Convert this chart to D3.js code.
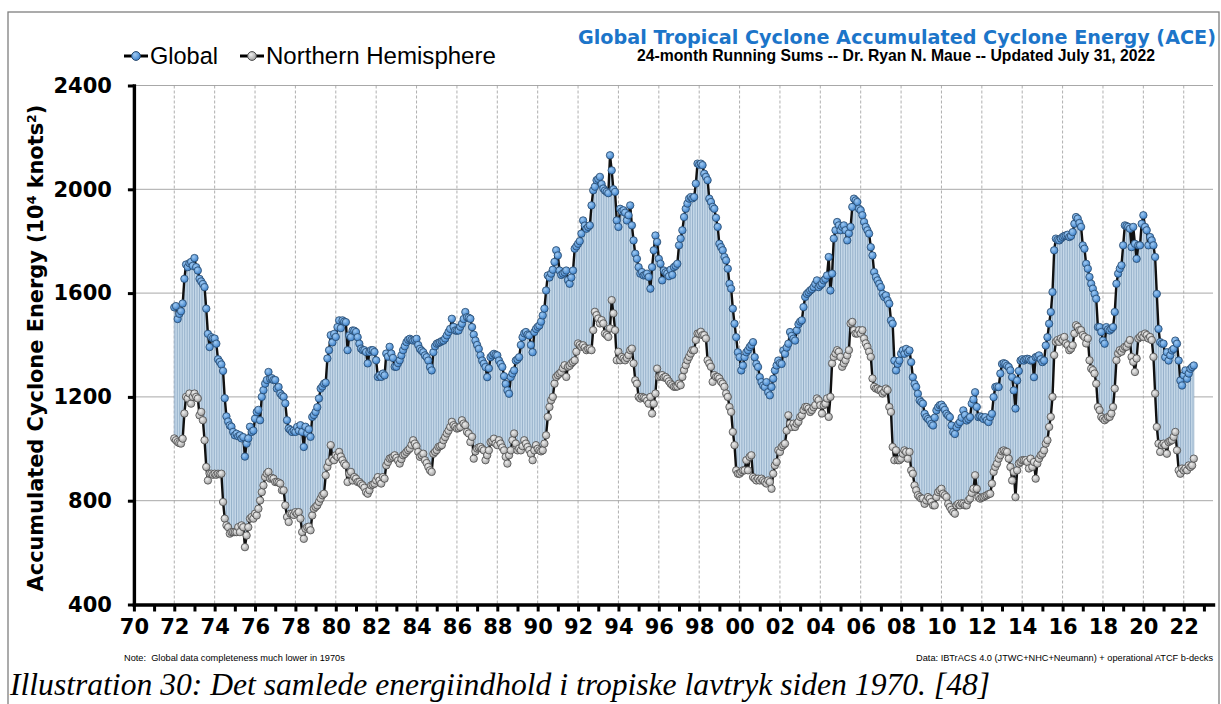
<!DOCTYPE html>
<html>
<head>
<meta charset="utf-8">
<script src="https://cdn.jsdelivr.net/npm/d3@7"></script>
<style>
  html, body { margin: 0; padding: 0; background: #fff; overflow: hidden; }
  svg { display: block; }
</style>
</head>
<body>
<svg id="chart" width="1221" height="704"></svg>
<script>
// 24-month running sums of ACE, monthly from Jan 1972 (one row per year)
const startYear = 1972;

const globalAce = [
  1545,1550,1500,1520,1530,1560,1655,1710,1700,1715,1720,1705,
  1735,1700,1687,1655,1645,1635,1623,1540,1443,1392,1430,1425,
  1425,1405,1345,1335,1325,1300,1195,1125,1105,1090,1085,1065,
  1052,1058,1048,1052,1040,1045,970,1020,1040,1085,1065,1070,
  1116,1142,1150,1110,1200,1226,1251,1265,1296,1270,1272,1265,
  1265,1232,1238,1213,1205,1200,1175,1110,1078,1072,1065,1070,
  1065,1084,1070,1091,1065,1007,1085,1060,1075,1046,1123,1130,
  1142,1160,1194,1232,1240,1251,1255,1348,1380,1438,1410,1443,
  1431,1469,1495,1465,1495,1490,1488,1380,1437,1430,1456,1455,
  1450,1430,1405,1386,1380,1380,1373,1329,1373,1380,1380,1373,
  1341,1277,1283,1277,1290,1283,1367,1355,1393,1367,1350,1316,
  1316,1330,1341,1360,1380,1395,1411,1420,1424,1420,1417,1420,
  1424,1400,1385,1378,1372,1360,1353,1340,1315,1302,1372,1395,
  1405,1408,1411,1415,1417,1425,1437,1450,1462,1501,1470,1456,
  1455,1456,1470,1482,1500,1527,1507,1505,1501,1469,1440,1417,
  1400,1385,1360,1340,1328,1315,1276,1310,1353,1360,1366,1362,
  1360,1340,1327,1315,1280,1250,1225,1212,1276,1290,1302,1340,
  1345,1353,1400,1430,1445,1450,1440,1437,1400,1372,1450,1462,
  1470,1475,1490,1514,1540,1610,1668,1660,1675,1690,1720,1765,
  1745,1687,1670,1675,1680,1687,1650,1636,1660,1687,1771,1780,
  1790,1800,1829,1880,1860,1848,1855,1861,1938,1996,2010,2035,
  2040,2048,2020,2003,1995,1990,1985,2131,2073,2000,1990,1880,
  1855,1925,1915,1919,1910,1880,1900,1938,1861,1803,1752,1732,
  1700,1675,1681,1668,1670,1675,1662,1617,1700,1765,1822,1797,
  1732,1713,1649,1687,1680,1675,1665,1690,1670,1700,1705,1713,
  1784,1810,1842,1893,1925,1945,1964,1970,1965,1970,2022,2099,
  2095,2099,2093,2060,2048,2035,1964,1951,1932,1925,1890,1855,
  1790,1777,1765,1739,1726,1694,1636,1617,1540,1482,1430,1372,
  1353,1302,1321,1353,1372,1380,1392,1400,1411,1353,1327,1315,
  1276,1257,1244,1238,1257,1218,1206,1238,1270,1302,1321,1340,
  1330,1327,1379,1366,1390,1405,1450,1435,1424,1417,1456,1480,
  1490,1495,1546,1585,1597,1603,1610,1615,1623,1635,1649,1623,
  1630,1636,1649,1655,1668,1739,1610,1675,1810,1842,1874,1861,
  1842,1855,1861,1842,1803,1830,1855,1932,1964,1957,1951,1925,
  1919,1900,1874,1855,1842,1829,1777,1745,1681,1662,1649,1636,
  1623,1597,1585,1591,1572,1559,1495,1482,1340,1302,1327,1340,
  1366,1379,1366,1385,1372,1379,1334,1276,1250,1238,1212,1187,
  1180,1174,1135,1122,1115,1109,1096,1090,1120,1148,1160,1168,
  1170,1161,1150,1135,1128,1122,1090,1064,1057,1083,1095,1103,
  1120,1148,1130,1109,1115,1122,1174,1190,1218,1161,1122,1125,
  1122,1115,1122,1110,1103,1122,1135,1199,1238,1240,1238,1290,
  1327,1330,1327,1320,1315,1302,1276,1225,1155,1263,1300,1340,
  1345,1340,1345,1347,1345,1340,1342,1276,1353,1355,1360,1345,
  1334,1340,1398,1430,1482,1527,1604,1765,1810,1805,1803,1810,
  1816,1820,1822,1825,1816,1820,1835,1867,1893,1887,1870,1855,
  1784,1771,1713,1694,1662,1636,1617,1597,1578,1469,1469,1450,
  1417,1405,1469,1460,1456,1462,1469,1527,1636,1675,1694,1707,
  1784,1861,1858,1855,1848,1777,1855,1790,1732,1784,1784,1867,
  1900,1855,1842,1784,1816,1803,1784,1739,1597,1462,1411,1405,
  1405,1353,1372,1340,1360,1379,1385,1417,1405,1340,1263,1244,
  1283,1302,1270,1290,1308,1315,1321
];

const nhAce = [
  1040,1033,1026,1022,1020,1039,1136,1200,1194,1213,1174,1200,
  1213,1200,1194,1129,1142,1110,1033,930,878,904,904,900,
  904,900,904,902,904,795,731,705,698,673,679,679,
  679,679,698,679,705,698,621,666,698,731,737,731,
  750,743,769,801,833,859,891,904,911,885,888,885,
  872,872,870,866,840,840,782,737,718,750,750,745,
  756,750,756,731,679,653,692,698,700,686,743,769,
  776,782,795,808,821,827,898,930,949,1014,962,956,
  975,969,988,970,956,943,936,872,904,911,878,891,
  885,872,872,865,859,850,833,827,840,859,862,866,
  878,891,878,866,891,885,936,949,962,965,969,975,
  965,955,943,960,975,980,988,995,1001,1015,1033,1020,
  1010,988,969,975,981,956,945,930,917,911,981,988,
  995,1007,1010,1014,1033,1045,1059,1070,1084,1104,1091,1085,
  1078,1080,1084,1110,1097,1091,1065,1059,1026,1046,962,990,
  1001,1005,1007,1000,994,956,975,994,1026,1030,1039,1020,
  1014,1033,1020,1005,994,969,943,975,994,1033,1059,1020,
  994,1001,994,1010,1033,1020,1007,995,981,956,994,1014,
  1000,994,990,994,1020,1052,1123,1161,1187,1200,1251,1277,
  1284,1290,1296,1310,1322,1277,1316,1320,1329,1335,1341,1374,
  1406,1400,1393,1399,1390,1380,1385,1386,1380,1457,1528,1515,
  1502,1483,1496,1483,1444,1438,1431,1464,1573,1522,1457,1341,
  1374,1341,1354,1348,1341,1350,1361,1380,1386,1329,1264,1251,
  1200,1194,1200,1197,1194,1185,1174,1200,1136,1174,1213,1309,
  1277,1280,1284,1275,1277,1270,1260,1251,1245,1239,1239,1240,
  1251,1245,1277,1303,1322,1341,1354,1367,1380,1380,1419,1444,
  1444,1451,1438,1438,1425,1341,1329,1316,1258,1284,1277,1277,
  1271,1258,1251,1239,1213,1200,1161,1142,1065,1014,917,904,
  904,911,917,917,956,917,969,975,891,885,878,885,
  878,885,878,872,866,878,872,846,904,936,949,994,
  988,1007,1014,1020,1070,1129,1097,1084,1097,1084,1097,1104,
  1123,1129,1149,1161,1161,1155,1142,1149,1160,1168,1194,1187,
  1168,1136,1168,1174,1194,1123,1200,1329,1354,1367,1380,1374,
  1354,1316,1329,1341,1360,1380,1483,1489,1457,1444,1444,1457,
  1444,1457,1425,1406,1393,1374,1354,1271,1239,1232,1232,1226,
  1226,1213,1220,1232,1226,1161,1142,1007,956,994,956,956,
  962,981,994,988,962,988,917,904,859,840,821,814,
  808,808,788,801,814,808,795,782,782,814,833,840,
  846,827,821,814,788,776,765,756,750,782,788,782,
  790,788,782,782,801,808,830,846,898,846,814,808,
  812,814,818,821,825,827,866,911,930,943,962,975,
  990,994,990,988,962,930,878,911,814,917,943,949,
  956,956,956,949,924,962,930,949,885,943,962,975,
  981,994,1020,1033,1084,1123,1200,1361,1412,1419,1412,1425,
  1419,1431,1406,1399,1380,1386,1399,1444,1476,1470,1457,1457,
  1438,1431,1406,1425,1341,1309,1303,1290,1251,1161,1149,1123,
  1116,1110,1116,1123,1123,1136,1161,1232,1341,1367,1380,1374,
  1386,1393,1393,1405,1419,1354,1335,1296,1348,1425,1431,1438,
  1431,1444,1438,1425,1431,1419,1354,1213,1084,1020,988,1014,
  1020,1014,981,1026,1030,1033,1046,1065,994,917,904,924,
  917,924,917,936,930,936,962
];

const yTickValues = [400, 800, 1200, 1600, 2000, 2400];
const xTickYears = d3.range(1970, 2024);           // a tick every year
const xLabelYears = d3.range(1970, 2024, 2);       // labelled every other year
const seriesNames = ["Global", "Northern Hemisphere"];

const titleText = "Global Tropical Cyclone Accumulated Cyclone Energy (ACE)";
const subtitleText = "24-month Running Sums -- Dr. Ryan N. Maue -- Updated July 31, 2022";
const noteText = "Note:  Global data completeness much lower in 1970s";
const sourceText = "Data: IBTrACS 4.0 (JTWC+NHC+Neumann) + operational ATCF b-decks";
const captionText = "Illustration 30: Det samlede energiindhold i tropiske lavtryk siden 1970. [48]";

// ---------------------------------------------------------------------------
const svg = d3.select("#chart");
const tickFont = "'DejaVu Sans', 'Liberation Sans', sans-serif";

const x = d3.scaleLinear().domain([1970, 2023.45]).range([133.9, 1213]);
const y = d3.scaleLinear().domain([400, 2400]).range([604.5, 85.5]);

const months = globalAce.map((g, i) => ({ t: startYear + i / 12, g: g, n: nhAce[i] }));

// shrink/grow a text's font size so it spans a given width
function fitWidth(sel, width) {
  const node = sel.node();
  const fs = parseFloat(sel.attr("font-size"));
  const w = node.getComputedTextLength();
  if (w > 0) sel.attr("font-size", (fs * width / w).toFixed(2));
  return sel;
}

// marker shading
const defs = svg.append("defs");
function ballGradient(id, light, dark) {
  const g = defs.append("radialGradient").attr("id", id)
    .attr("cx", "38%").attr("cy", "35%").attr("r", "65%");
  g.append("stop").attr("offset", "0%").attr("stop-color", light);
  g.append("stop").attr("offset", "100%").attr("stop-color", dark);
}
ballGradient("ballGlobal", "#9fcaf3", "#3f83cc");
ballGradient("ballNH", "#efefef", "#a2a2a2");

// outer frame
svg.append("rect")
  .attr("x", 8).attr("y", 12).attr("width", 1211).attr("height", 760)
  .attr("fill", "none").attr("stroke", "#7f7f7f").attr("stroke-width", 1.3);

// gridlines
const grid = svg.append("g");
grid.selectAll("line.h").data(yTickValues.filter(v => v > 400)).join("line")
  .attr("x1", x(1970)).attr("x2", x.range()[1])
  .attr("y1", d => y(d)).attr("y2", d => y(d))
  .attr("stroke", "#a8a8a8").attr("stroke-width", 1);
grid.selectAll("line.v").data(xLabelYears.filter(v => v > 1970)).join("line")
  .attr("x1", d => x(d)).attr("x2", d => x(d))
  .attr("y1", y(2400)).attr("y2", y(400))
  .attr("stroke", "#9a9a9a").attr("stroke-width", 0.8)
  .attr("stroke-dasharray", "3,2");

// band between the two series, drawn as monthly drop lines
const band = svg.append("g");
band.append("path").datum(months)
  .attr("d", d3.area().x(d => x(d.t)).y0(d => y(d.n)).y1(d => y(d.g)))
  .attr("fill", "#dcebf7");
band.selectAll("line").data(months).join("line")
  .attr("x1", d => x(d.t)).attr("x2", d => x(d.t))
  .attr("y1", d => y(d.n)).attr("y2", d => y(d.g))
  .attr("stroke", "#5c81a5").attr("stroke-width", 0.55);

// series lines
const lineG = d3.line().x(d => x(d.t)).y(d => y(d.g));
const lineN = d3.line().x(d => x(d.t)).y(d => y(d.n));
svg.append("path").datum(months).attr("d", lineN)
  .attr("fill", "none").attr("stroke", "#111").attr("stroke-width", 2.4)
  .attr("stroke-linejoin", "round");
svg.append("path").datum(months).attr("d", lineG)
  .attr("fill", "none").attr("stroke", "#111").attr("stroke-width", 2.4)
  .attr("stroke-linejoin", "round");

// markers
svg.append("g").selectAll("circle").data(months).join("circle")
  .attr("cx", d => x(d.t)).attr("cy", d => y(d.n)).attr("r", 3.7)
  .attr("fill", "url(#ballNH)").attr("stroke", "#4a4a4a").attr("stroke-width", 0.8);
svg.append("g").selectAll("circle").data(months).join("circle")
  .attr("cx", d => x(d.t)).attr("cy", d => y(d.g)).attr("r", 3.7)
  .attr("fill", "url(#ballGlobal)").attr("stroke", "#26476b").attr("stroke-width", 0.8);

// axes
const yAxis = d3.axisLeft(y).tickValues(yTickValues).tickSize(6).tickSizeOuter(0)
  .tickPadding(16).tickFormat(d3.format("d"));
const yAxisG = svg.append("g").attr("transform", `translate(${x(1970)},0)`).call(yAxis);

const xAxis = d3.axisBottom(x).tickValues(xTickYears).tickSize(7).tickSizeOuter(0)
  .tickPadding(7.5).tickFormat(d => d % 2 === 0 ? String(d).slice(2) : "");
const xAxisG = svg.append("g").attr("transform", `translate(0,${y(400)})`).call(xAxis);

[yAxisG, xAxisG].forEach(g => {
  g.select(".domain").attr("stroke", "#000").attr("stroke-width", 3.4)
    .attr("stroke-linecap", "square");
  g.selectAll(".tick line").attr("stroke", "#000").attr("stroke-width", 3);
  g.selectAll(".tick text").attr("fill", "#000")
    .attr("font-family", tickFont).attr("font-weight", "bold").attr("font-size", 21);
});

// y axis title
const yTitle = svg.append("text")
  .attr("transform", "translate(43,348) rotate(-90)")
  .attr("text-anchor", "middle")
  .attr("font-family", tickFont).attr("font-weight", "bold").attr("font-size", 18)
  .attr("fill", "#000");
yTitle.append("tspan").text("Accumulated Cyclone Energy (10");
yTitle.append("tspan").attr("baseline-shift", "super").attr("font-size", "0.6em").text("4");
yTitle.append("tspan").text(" knots");
yTitle.append("tspan").attr("baseline-shift", "super").attr("font-size", "0.6em").text("2");
yTitle.append("tspan").text(")");
fitWidth(yTitle, 487);

// legend
const legend = svg.append("g");
const legendItems = [
  { name: seriesNames[0], x0: 124, fill: "url(#ballGlobal)", stroke: "#26476b", w: 68 },
  { name: seriesNames[1], x0: 240, fill: "url(#ballNH)", stroke: "#4a4a4a", w: 230 }
];
legendItems.forEach(it => {
  legend.append("line").attr("x1", it.x0).attr("x2", it.x0 + 24)
    .attr("y1", 56).attr("y2", 56).attr("stroke", "#000").attr("stroke-width", 3);
  legend.append("circle").attr("cx", it.x0 + 12).attr("cy", 56).attr("r", 4.4)
    .attr("fill", it.fill).attr("stroke", it.stroke).attr("stroke-width", 1);
  const t = legend.append("text").attr("x", it.x0 + 26).attr("y", 64)
    .attr("font-family", "'Liberation Sans', Arial, sans-serif").attr("font-size", 21)
    .attr("fill", "#000").text(it.name);
  fitWidth(t, it.w);
});

// titles
const title = svg.append("text").attr("x", 897).attr("y", 44).attr("text-anchor", "middle")
  .attr("font-family", "'DejaVu Sans', 'Liberation Sans', sans-serif").attr("font-weight", "bold")
  .attr("font-size", 17).attr("fill", "#1c75c9").text(titleText);
fitWidth(title, 638);
const subtitle = svg.append("text").attr("x", 896).attr("y", 61).attr("text-anchor", "middle")
  .attr("font-family", "'Liberation Sans', Arial, sans-serif").attr("font-weight", "bold")
  .attr("font-size", 12).attr("fill", "#000").text(subtitleText);
fitWidth(subtitle, 518);

// footnotes
const note = svg.append("text").attr("x", 124).attr("y", 661)
  .attr("font-family", "'Liberation Sans', Arial, sans-serif").attr("font-size", 9.5)
  .attr("fill", "#000").style("white-space", "pre").text(noteText);
fitWidth(note, 221);
const src = svg.append("text").attr("x", 1213).attr("y", 661).attr("text-anchor", "end")
  .attr("font-family", "'Liberation Sans', Arial, sans-serif").attr("font-size", 10)
  .attr("fill", "#000").text(sourceText);
fitWidth(src, 297);

// figure caption
const caption = svg.append("text").attr("x", 10).attr("y", 695)
  .attr("font-family", "'Liberation Serif', 'Times New Roman', serif")
  .attr("font-style", "italic").attr("font-size", 28)
  .attr("fill", "#000").text(captionText);
fitWidth(caption, 980);
</script>
</body>
</html>
